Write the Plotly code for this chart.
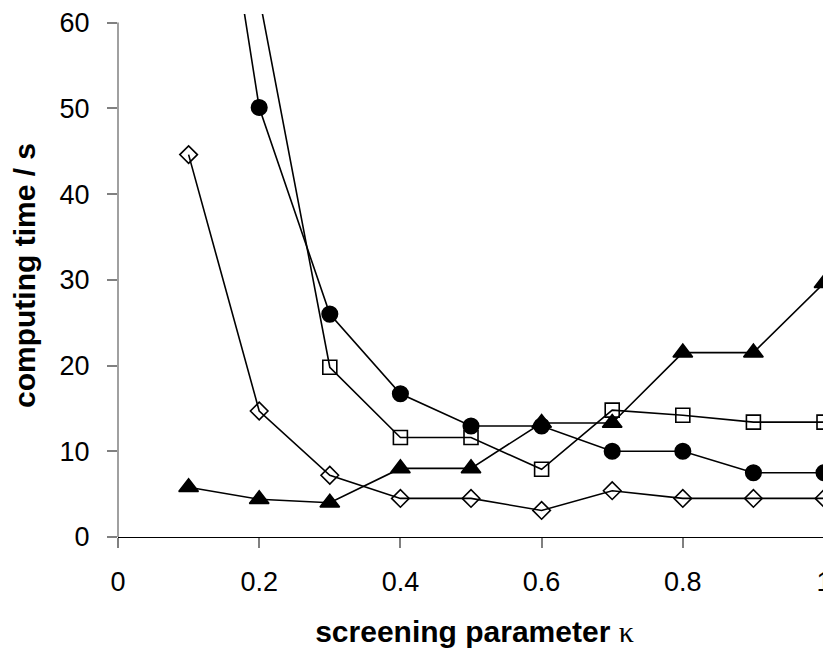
import plotly.graph_objects as go

kappa = [0.1, 0.2, 0.3, 0.4, 0.5, 0.6, 0.7, 0.8, 0.9, 1.0]
t_diamond = [44.6, 14.7, 7.2, 4.5, 4.5, 3.1, 5.4, 4.5, 4.5, 4.5]
t_circle = [102.5, 50.1, 26.0, 16.7, 12.95, 12.95, 10.0, 10.0, 7.5, 7.5]
t_square = [None, 63.0, 19.8, 11.6, 11.6, 7.9, 14.8, 14.2, 13.4, 13.4]
t_triangle = [5.8, 4.4, 4.0, 8.0, 8.0, 13.3, 13.3, 21.5, 21.5, 29.6]

x_ticks = [0, 0.2, 0.4, 0.6, 0.8, 1]
x_tick_labels = ["0", "0.2", "0.4", "0.6", "0.8", "1"]
y_ticks = [0, 10, 20, 30, 40, 50, 60]

FONT = "Liberation Sans, Arial, sans-serif"

fig = go.Figure()

def add(y, symbol, size):
    fig.add_trace(go.Scatter(
        x=kappa, y=y, mode="lines+markers",
        line=dict(color="black", width=1.6),
        marker=dict(symbol=symbol, size=size, color="black",
                    line=dict(color="black", width=1.6)),
        connectgaps=False, showlegend=False,
    ))

add(t_diamond, "diamond-open", 13.5)
add(t_square, "square-open", 14)
add(t_circle, "circle", 15.5)
add(t_triangle, "triangle-up", 17)

# the page body adds an 8px offset; size and margins compensate for it
fig.update_layout(
    width=823, height=647,
    margin=dict(l=110, r=0, t=6, b=118, autoexpand=False),
    paper_bgcolor="white", plot_bgcolor="white",
    font=dict(family=FONT, color="black"),
    showlegend=False,
)

fig.update_xaxes(
    range=[0, 1.0099], tickmode="array", tickvals=x_ticks, ticktext=x_tick_labels,
    automargin=False, ticklabeloverflow="allow",
    showgrid=False, zeroline=False,
    showline=True, linecolor="black", linewidth=1,
    ticks="outside", ticklen=10, tickcolor="#808080", tickwidth=1.5,
    tickfont=dict(size=27, family=FONT),
    ticklabelstandoff=11,
    title=dict(
        text="<b>screening parameter </b><span style=\"font-family:'Liberation Serif';font-weight:normal\">κ</span>",
        font=dict(size=30, family=FONT), standoff=24),
)

fig.update_yaxes(
    range=[0, 61], tickmode="array", tickvals=y_ticks,
    automargin=False, ticklabeloverflow="allow",
    showgrid=False, zeroline=False, showline=False,
    ticks="outside", ticklen=10, tickcolor="#808080", tickwidth=1.5,
    tickfont=dict(size=27, family=FONT),
    ticklabelstandoff=12,
    title=dict(text="<b>computing time / s</b>", font=dict(size=30, family=FONT), standoff=16),
)

# y-axis line spanning the tick range only
fig.add_shape(type="line", xref="paper", yref="y", x0=0, x1=0,
              y0=y_ticks[0], y1=y_ticks[-1], line=dict(color="#808080", width=1.5))

fig.write_html("out.html")
